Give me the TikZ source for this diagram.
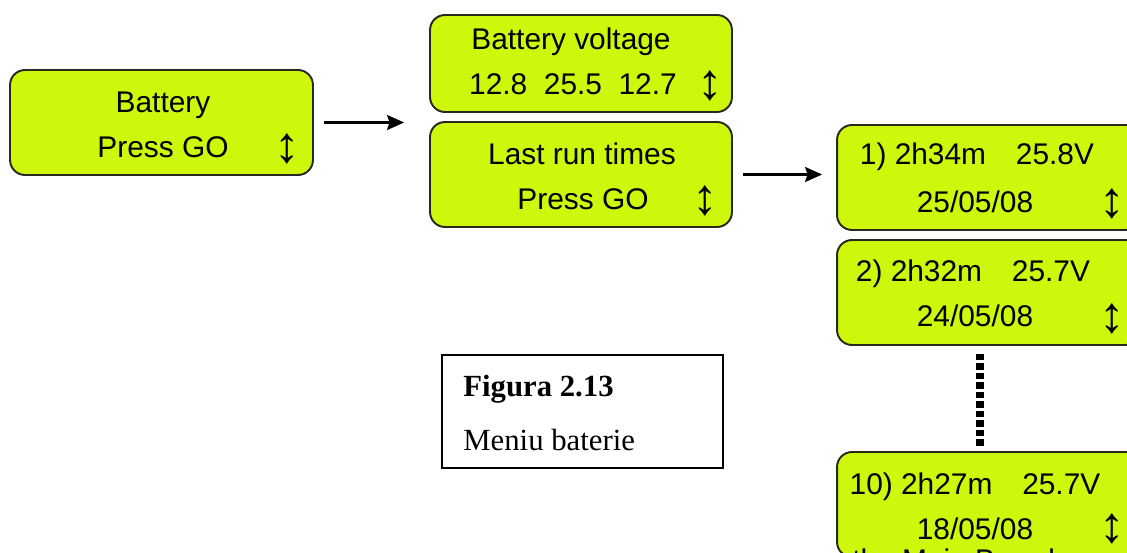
\documentclass[tikz,border=0pt]{standalone}
\usepackage{fontspec}
\setmainfont{Liberation Sans}
\newfontfamily\capfont{Liberation Serif}
\usetikzlibrary{arrows.meta, positioning}
\definecolor{lcdgreen}{RGB}{205,248,12}
\definecolor{lcdedge}{RGB}{40,40,28}

\begin{document}
\begin{tikzpicture}[
    x=0.02cm, y=-0.02cm,
    lcd/.style={rectangle, draw=lcdedge, fill=lcdgreen, line width=1.1pt,
      rounded corners=0.3cm, minimum width=6.06cm, minimum height=2.1cm, inner sep=0pt},
    lcdtext/.style={inner sep=0pt, anchor=base, font=\fontsize{17}{20}\selectfont},
    updown/.style={inner sep=0pt, font=\fontsize{29}{30}\selectfont},
    flow/.style={-{Stealth[length=0.34cm, width=0.3cm, inset=0.05cm]}, line width=1.3pt, shorten <=0.2cm},
    dotline/.style={line width=4pt, dash pattern=on 3.6pt off 1.8pt},
    caption/.style={rectangle, draw, line width=0.8pt, minimum width=5.62cm, minimum height=2.26cm},
    captext/.style={inner sep=0pt, anchor=base west, font=\capfont\fontsize{17.5}{20}\selectfont}
  ]
  \useasboundingbox (0,0) rectangle (1127,553);
  \clip (0,0) rectangle (1127,553);

  % battery entry
  \node[lcd] (batt) at (161.5,122.5) {};
  \node[lcdtext] (battA) at (163,113) {Battery};
  \node[lcdtext] (battB) at (163,158) {Press GO};
  \node[updown] (battU) at (287,149) {↕};

  % second column
  \node[lcd, minimum width=6.04cm, minimum height=1.94cm] (volt) at (581,63.5) {};
  \node[lcdtext] (voltA) at (571,50) {Battery voltage};
  \node[lcdtext] (voltB) at (573,95) {12.8\ \ 25.5\ \ 12.7};
  \node[updown] (voltU) at (710,86) {↕};

  \node[lcd, minimum width=6.04cm] (runs) at (581,174.5) {};
  \node[lcdtext] (runsA) at (582,165) {Last run times};
  \node[lcdtext] (runsB) at (583,210) {Press GO};
  \node[updown] (runsU) at (705,201) {↕};

  % run list
  \node[lcd, minimum width=6.08cm] (run1) at (989,177.5) {};
  \node[lcdtext] (run1A) at (977,165) {1) 2h34m\quad 25.8V};
  \node[lcdtext] (run1B) at (975,213) {25/05/08};
  \node[updown] (run1U) at (1112,204) {↕};

  \node[lcd, minimum width=6.08cm] (run2) at (989,292.5) {};
  \node[lcdtext] (run2A) at (973,282) {2) 2h32m\quad 25.7V};
  \node[lcdtext] (run2B) at (975,327) {24/05/08};
  \node[updown] (run2U) at (1112,319) {↕};

  \node[lcd, minimum width=6.08cm] (run10) at (989,504.5) {};
  \node[lcdtext] (run10A) at (975,495) {10) 2h27m\quad 25.7V};
  \node[lcdtext] (run10B) at (975,540) {18/05/08};
  \node[updown] (run10U) at (1112,529) {↕};
  \node[lcdtext, anchor=base west] (board) at (852,571) {the Main Board};

  % connectors
  \draw[flow, shorten >=0.5cm] (batt.east) -- (batt.east -| runs.west);
  \draw[flow, shorten >=0.28cm] (runs.east) -- (runs.east -| run1.west);
  \draw[dotline, shorten <=0.16cm, shorten >=0.08cm]
    ([xshift=-0.18cm]run2.south) -- ([xshift=-0.18cm]run10.north);

  % caption
  \node[caption] (cap) at (582.5,411.5) {};
  \node[captext] (capA) at (463,397) {\bfseries Figura 2.13};
  \node[captext] (capB) at (463,451) {Meniu baterie};
\end{tikzpicture}
\end{document}
